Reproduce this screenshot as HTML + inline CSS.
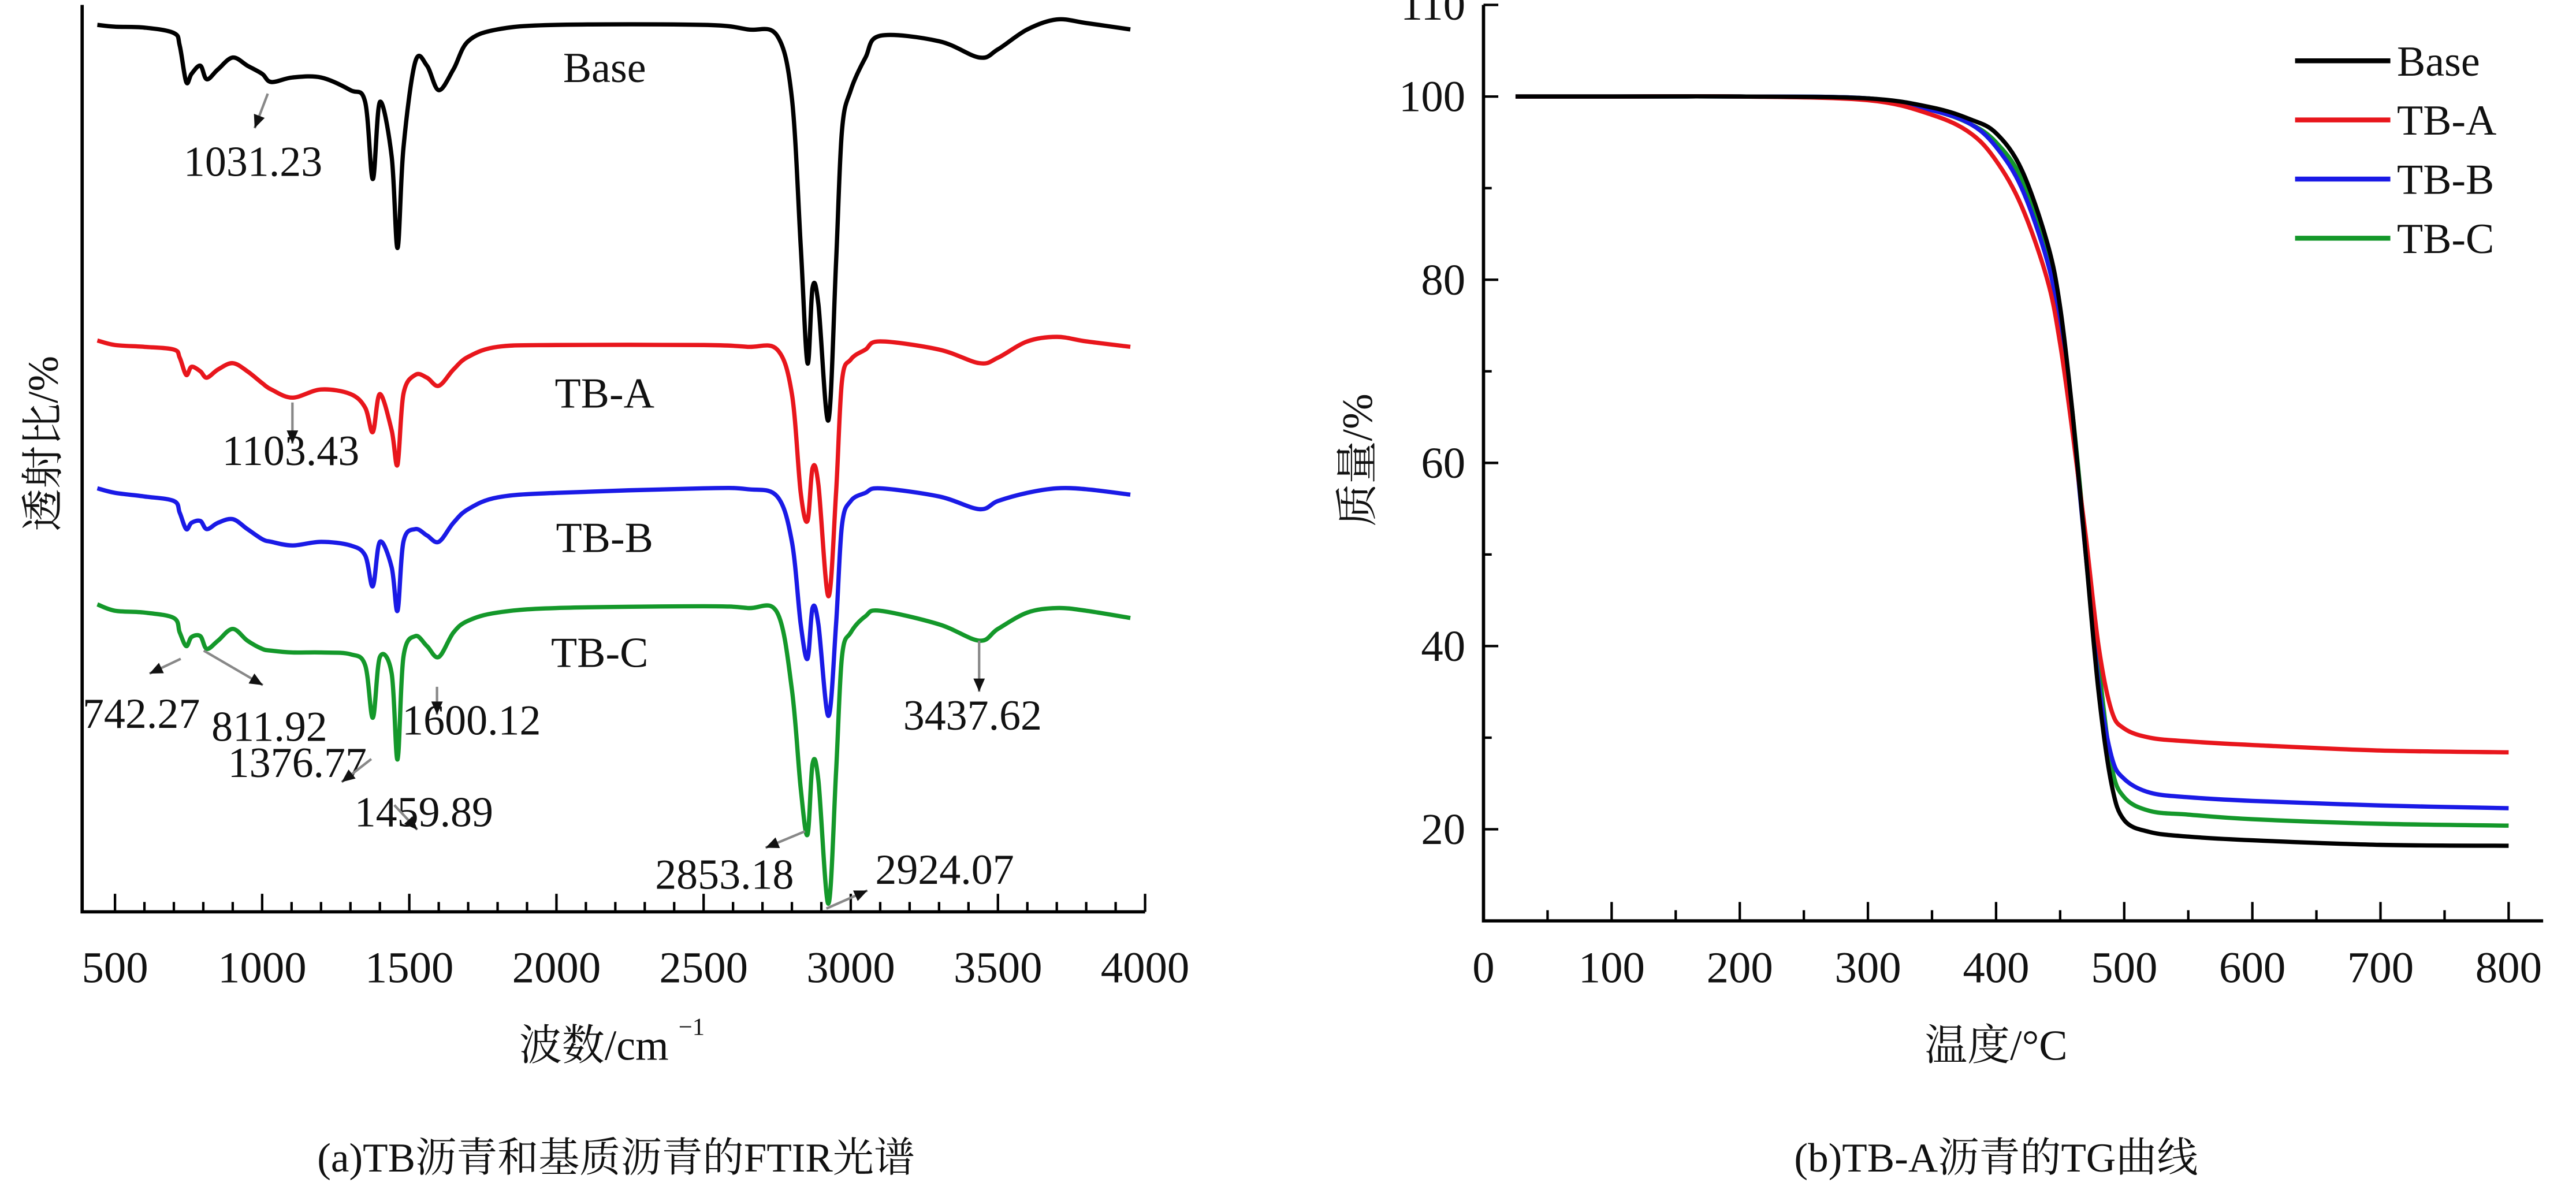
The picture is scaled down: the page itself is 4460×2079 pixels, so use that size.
<!DOCTYPE html>
<html><head><meta charset="utf-8"><style>
html,body{margin:0;padding:0;background:#fff;}
svg{display:block;}
text{font-family:"Liberation Serif","Noto Serif CJK SC",serif;fill:#111;}
</style></head>
<body>
<svg id="fig" xmlns="http://www.w3.org/2000/svg" width="4460" height="2079" viewBox="0 0 1568 731" preserveAspectRatio="none">
<g id="ftir"></g>
<g id="tg"></g>
</svg>
<script>
// ---------- FTIR data ----------
const wavenumbers=[440,500,600,700,720,742,760,790,812,850,900,950,1000,1031,1103,1200,1300,1350,1376,1400,1440,1460,1480,1520,1560,1600,1650,1700,1800,2000,2500,2650,2750,2800,2830,2853,2870,2890,2924,2950,2970,3000,3050,3100,3300,3437,3500,3600,3700,3800,3950];
const baseT=[97.8,97.6,97.5,96.9,95.5,91.5,92.4,93.3,91.8,92.9,94.2,93.3,92.4,91.5,92.0,92.0,90.6,89.3,80.8,89.3,83.3,73.2,84.2,93.7,93.3,90.6,92.9,96.0,97.3,97.8,97.8,97.3,96.6,89.7,73.4,60.5,68.8,67.0,54.2,71.6,86.1,90.6,94.2,96.6,96.0,94.2,95.1,97.3,98.4,98.0,97.3];
const tbaT=[63.0,62.5,62.3,62.0,61.1,59.2,60.1,59.6,58.9,59.8,60.5,59.6,58.3,57.6,56.7,57.6,57.1,55.6,52.9,57.1,53.1,49.3,57.1,59.2,58.9,58.0,59.8,61.2,62.3,62.5,62.5,62.3,62.0,57.1,46.2,43.1,48.9,47.1,34.8,46.2,58.5,60.9,62.0,62.9,62.0,60.5,61.1,62.9,63.4,62.9,62.3];
const tbbT=[46.7,46.2,45.8,45.3,44.0,42.2,42.9,43.1,42.2,42.9,43.3,42.2,41.1,40.8,40.4,40.8,40.4,39.3,35.9,40.8,38.0,33.2,40.8,42.2,41.5,40.8,42.9,44.4,45.7,46.2,46.7,46.6,45.8,40.8,31.7,27.9,33.5,31.7,21.6,31.7,42.6,45.3,46.2,46.7,45.8,44.4,45.3,46.2,46.7,46.6,46.0];
const tbcT=[33.9,33.2,33.0,32.4,30.8,29.3,30.3,30.4,29.0,29.9,31.2,29.9,29.0,28.8,28.6,28.6,28.4,27.2,21.4,28.1,26.3,16.8,28.1,30.4,29.3,28.1,30.8,32.1,33.0,33.5,33.7,33.5,33.0,24.5,13.6,8.5,16.3,14.5,0.9,15.4,28.1,30.8,32.6,33.2,31.7,29.9,31.2,33.0,33.5,33.2,32.4];
const ftirTicks=[500,1000,1500,2000,2500,3000,3500,4000];
// ---------- TG data ----------
const temps=[25,100,200,300,350,380,400,420,440,450,460,470,480,490,500,520,550,600,700,800];
const baseM=[100,100,100,99.8,98.8,97.5,96,92,84,77,65,50,35,25,21,19.7,19.2,18.8,18.3,18.2];
const tbaM=[100,100,100,99.6,98,96,93,88,80,73,63,52,40,33,31,30,29.6,29.2,28.6,28.4];
const tbbM=[100,100,100,99.8,98.5,97,94.5,90,82,75,64,50,36,28,25.5,24,23.5,23.1,22.6,22.3];
const tbcM=[100,100,100,99.8,98.5,97,95,91,83,76,65,51,38,27,23.5,22,21.6,21.1,20.6,20.4];
const tgXTicks=[0,100,200,300,400,500,600,700,800];
const tgYTicks=[20,40,60,80,100,110];

const NS="http://www.w3.org/2000/svg";
function mk(parent,tag,attrs,txt){const e=document.createElementNS(NS,tag);for(const k in attrs)e.setAttribute(k,attrs[k]);if(txt!==undefined)e.textContent=txt;parent.appendChild(e);return e;}
function smooth(pts){let d="M"+pts[0][0].toFixed(2)+","+pts[0][1].toFixed(2);
 for(let i=0;i<pts.length-1;i++){const p0=pts[i-1]||pts[i],p1=pts[i],p2=pts[i+1],p3=pts[i+2]||p2;
 const c1=[p1[0]+(p2[0]-p0[0])/6,p1[1]+(p2[1]-p0[1])/6],c2=[p2[0]-(p3[0]-p1[0])/6,p2[1]-(p3[1]-p1[1])/6];
 d+=" C"+c1[0].toFixed(2)+","+c1[1].toFixed(2)+" "+c2[0].toFixed(2)+","+c2[1].toFixed(2)+" "+p2[0].toFixed(2)+","+p2[1].toFixed(2);}
 return d;}

// ===== FTIR =====
const A=document.getElementById('ftir');
const fx=v=>70+(v-500)*(627/3500);
const fy=v=>555-v*5.52;
let ax=mk(A,'path',{d:'M50,3 V555 H697',fill:'none',stroke:'#000','stroke-width':2});


for(let v=500;v<=4000;v+=100){
 const major=v%500===0;
 const t=mk(A,'line',{x1:fx(v),x2:fx(v),y1:555,y2:major?544:549,stroke:'#000','stroke-width':1.5});
 
 
}
ftirTicks.forEach(v=>{
 const t=mk(A,'text',{x:fx(v),y:598,'text-anchor':'middle','font-size':27},String(v));
 
 
});
const fseries=[['base',baseT,'#000'],['tb-a',tbaT,'#e8161c'],['tb-b',tbbT,'#1a1ae6'],['tb-c',tbcT,'#14982a']];
fseries.forEach(s=>{
 const p=mk(A,'path',{d:smooth(wavenumbers.map((w,i)=>[fx(w),fy(s[1][i])])),fill:'none',stroke:s[2],'stroke-width':2.6,'stroke-linejoin':'round'});
 
 
});
const flabels=[['Base',368,50],['TB-A',368,248],['TB-B',368,336],['TB-C',365,406]];
flabels.forEach(l=>{
 const t=mk(A,'text',{x:l[1],y:l[2],'text-anchor':'middle','font-size':26},l[0]);
 
 
});
const peaks=[['1031.23',154,107,163,57,155,78],['1103.43',177,283,178,245,178,270],['742.27',86,443,110,401,91,410],['811.92',164,451,124,396,160,417],['1376.77',181,473,226,462,208,476],['1600.12',287,447,266,418,266,435],['1459.89',258,503,240,490,254,505],['3437.62',592,444,596,390,596,421],['2853.18',441,541,490,506,466,516],['2924.07',575,538,503,553,528,542]];
peaks.forEach(p=>{
 const t=mk(A,'text',{x:p[1],y:p[2],'text-anchor':'middle','font-size':26},p[0]);
 
 
 const l=mk(A,'line',{x1:p[3],y1:p[4],x2:p[5],y2:p[6],stroke:'#888','stroke-width':1.5});
 
 
 const ang=Math.atan2(p[6]-p[4],p[5]-p[3]),L=8,W=3.5;
 const bx=p[5]-L*Math.cos(ang),by=p[6]-L*Math.sin(ang);
 const h=mk(A,'polygon',{points:`${p[5]},${p[6]} ${bx-W*Math.sin(ang)},${by+W*Math.cos(ang)} ${bx+W*Math.sin(ang)},${by-W*Math.cos(ang)}`,fill:'#111'});
 
 
});
let tt=mk(A,'text',{x:316,y:645,'font-size':26},'波数/cm');


tt=mk(A,'text',{x:413,y:630,'font-size':15},'−1');


tt=mk(A,'text',{x:0,y:0,'text-anchor':'middle','font-size':26,transform:'translate(35,270) rotate(-90)'},'透射比/%');


tt=mk(A,'text',{x:375,y:713,'text-anchor':'middle','font-size':25},'(a)TB沥青和基质沥青的FTIR光谱');



// ===== TG =====
const B=document.getElementById('tg');
const gx=v=>903+v*0.78;
const gy=v=>560.5-(v-10)*5.575;
ax=mk(B,'path',{d:'M903,3 V560.5 H1548',fill:'none',stroke:'#000','stroke-width':2});


for(let v=0;v<=800;v+=50){
 const major=v%100===0;
 if(v===0)continue;
 const t=mk(B,'line',{x1:gx(v),x2:gx(v),y1:560.5,y2:major?549:554,stroke:'#000','stroke-width':1.5});
 
 
}
for(let v=20;v<=110;v+=10){
 const major=v%20===0||v===110;
 const t=mk(B,'line',{x1:903,x2:major?912:908,y1:gy(v),y2:gy(v),stroke:'#000','stroke-width':1.5});
 
 
}
tgXTicks.forEach(v=>{
 const t=mk(B,'text',{x:gx(v),y:598,'text-anchor':'middle','font-size':27},String(v));
 
 
});
tgYTicks.forEach(v=>{
 const t=mk(B,'text',{x:892,y:gy(v)+9,'text-anchor':'end','font-size':27},String(v));
 
 
});
const gseries=[['base',baseM,'#000'],['tb-a',tbaM,'#e8161c'],['tb-b',tbbM,'#1a1ae6'],['tb-c',tbcM,'#14982a']];
gseries.slice().reverse().forEach(s=>{
 const p=mk(B,'path',{d:smooth(temps.map((t,i)=>[gx(t),gy(s[1][i])])),fill:'none',stroke:s[2],'stroke-width':2.6,'stroke-linejoin':'round'});
 
 
});
const legNames=['Base','TB-A','TB-B','TB-C'];
gseries.forEach((s,i)=>{
 const y=37+i*36;
 const l=mk(B,'line',{x1:1397,x2:1455,y1:y,y2:y,stroke:s[2],'stroke-width':3});
 
 
 const t=mk(B,'text',{x:1459,y:y+9,'font-size':26},legNames[i]);
 
 
});
tt=mk(B,'text',{x:1215,y:645,'text-anchor':'middle','font-size':26},'温度/°C');


tt=mk(B,'text',{x:0,y:0,'text-anchor':'middle','font-size':26,transform:'translate(835,280) rotate(-90)'},'质量/%');


tt=mk(B,'text',{x:1215,y:713,'text-anchor':'middle','font-size':25},'(b)TB-A沥青的TG曲线');


</script>
</body></html>
